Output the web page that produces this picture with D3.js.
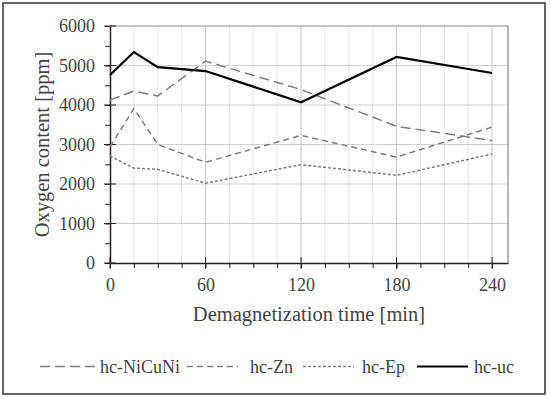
<!DOCTYPE html>
<html>
<head>
<meta charset="utf-8">
<script src="https://cdn.jsdelivr.net/npm/d3@7"></script>
<style>
    body { margin: 0; background: #fff; }
    svg text { font-family: "Liberation Serif", "Times New Roman", serif; }
    .axis path, .axis line { stroke: #222; }
</style>
</head>
<body>
<svg id="chart" width="550" height="399"></svg>
<script>
// demagnetization time [min]
let times = [0, 15, 30, 60, 120, 180, 240];
let niCuNi = [4130, 4350, 4230, 5110, 4390, 3460, 3100];
let zn = [2940, 3910, 3000, 2550, 3230, 2680, 3440];
let ep = [2710, 2400, 2370, 2020, 2490, 2220, 2760];
let uc = [4760, 5340, 4960, 4860, 4070, 5215, 4810];
let xTicks = [0, 60, 120, 180, 240];
let yTicks = [0, 1000, 2000, 3000, 4000, 5000, 6000];

let series = [
    {name: "hc-NiCuNi", values: niCuNi, color: "#808080", width: 1.5, dash: "10,5"},
    {name: "hc-Zn", values: zn, color: "#808080", width: 1.5, dash: "6,4"},
    {name: "hc-Ep", values: ep, color: "#808080", width: 1.5, dash: "3,2"},
    {name: "hc-uc", values: uc, color: "#000", width: 2.2, dash: null}
];

let svg = d3.select("#chart"),
    margin = {top: 26, right: 42, bottom: 136, left: 110},
    width = 550 - margin.left - margin.right,
    height = 399 - margin.top - margin.bottom;

// outer frame
svg.append("rect")
    .attr("x", 3).attr("y", 3)
    .attr("width", 542).attr("height", 391)
    .attr("fill", "none")
    .attr("stroke", "#333")
    .attr("stroke-width", 1.5);

let g = svg.append("g").attr("transform", "translate(" + margin.left + "," + margin.top + ")");

let x = d3.scaleLinear().domain([0, 250]).range([0, width]);
let y = d3.scaleLinear().domain([0, 6000]).range([height, 0]);

// grid
g.append("g").selectAll("line")
    .data(d3.range(15, 250, 15))
    .enter().append("line")
    .attr("x1", d => x(d)).attr("x2", d => x(d))
    .attr("y1", 0).attr("y2", height)
    .attr("stroke", d => d % 60 === 0 ? "#c8c8c8" : "#e6e6e6")
    .attr("stroke-width", 1);

g.append("g").selectAll("line")
    .data(yTicks.slice(1, -1))
    .enter().append("line")
    .attr("x1", 0).attr("x2", width)
    .attr("y1", d => y(d)).attr("y2", d => y(d))
    .attr("stroke", "#d0d0d0")
    .attr("stroke-width", 1);

// top and right frame of plot
g.append("path")
    .attr("d", "M0,0H" + width + "V" + height)
    .attr("fill", "none")
    .attr("stroke", "#888")
    .attr("stroke-width", 1.2);

// minor ticks
g.append("g").attr("class", "axis")
    .attr("transform", "translate(0," + height + ")")
    .call(d3.axisBottom(x).tickValues(d3.range(0, 250, 15)).tickSize(5).tickFormat(""))
    .call(a => a.select(".domain").remove());
g.append("g").attr("class", "axis")
    .call(d3.axisLeft(y).tickValues(d3.range(0, 6001, 500)).tickSize(5).tickFormat(""))
    .call(a => a.select(".domain").remove());

// major ticks crossing the axis
g.append("g").selectAll("line")
    .data(xTicks)
    .enter().append("line")
    .attr("x1", d => x(d)).attr("x2", d => x(d))
    .attr("y1", height - 6).attr("y2", height + 6)
    .attr("stroke", "#222");
g.append("g").selectAll("line")
    .data(yTicks)
    .enter().append("line")
    .attr("x1", -6).attr("x2", 6)
    .attr("y1", d => y(d)).attr("y2", d => y(d))
    .attr("stroke", "#222");

let xAxis = g.append("g").attr("class", "axis")
    .attr("transform", "translate(0," + height + ")")
    .call(d3.axisBottom(x).tickValues(xTicks).tickSize(0).tickPadding(15).tickSizeOuter(0).tickFormat(d3.format("d")));
xAxis.select(".domain").attr("stroke-width", 1.5);

let yAxis = g.append("g").attr("class", "axis")
    .call(d3.axisLeft(y).tickValues(yTicks).tickSize(0).tickPadding(15).tickSizeOuter(0).tickFormat(d3.format("d")));
yAxis.select(".domain").attr("stroke-width", 1.5);

g.selectAll(".axis")
    .attr("font-family", "Liberation Serif, serif")
    .attr("font-size", 18);
g.selectAll(".axis text")
    .style("font-family", "'Liberation Serif', serif")
    .attr("fill", "#444");

// series lines
let line = d3.line()
    .x((d, i) => x(times[i]))
    .y(d => y(d));

g.selectAll(".series")
    .data(series)
    .enter().append("path")
    .attr("class", "series")
    .attr("d", d => line(d.values))
    .attr("fill", "none")
    .attr("stroke", d => d.color)
    .attr("stroke-width", d => d.width)
    .attr("stroke-dasharray", d => d.dash);

// axis titles
svg.append("text")
    .attr("x", 309)
    .attr("y", 321)
    .attr("text-anchor", "middle")
    .attr("font-size", 20.5)
    .attr("fill", "#444")
    .text("Demagnetization time [min]");

svg.append("text")
    .attr("transform", "translate(49," + (margin.top + height / 2) + ") rotate(-90)")
    .attr("text-anchor", "middle")
    .attr("font-size", 20.5)
    .attr("fill", "#444")
    .text("Oxygen content [ppm]");

// legend
let legendX = [40, 187, 303, 417];
let textX = [100, 250, 362, 474];
let legend = svg.append("g").selectAll("g")
    .data(series)
    .enter().append("g");

legend.append("line")
    .attr("x1", (d, i) => legendX[i]).attr("x2", (d, i) => i === 0 ? 96 : legendX[i] + 51)
    .attr("y1", 366.5).attr("y2", 366.5)
    .attr("stroke", d => d.color)
    .attr("stroke-width", d => d.width)
    .attr("stroke-dasharray", d => d.dash);

legend.append("text")
    .attr("x", (d, i) => textX[i])
    .attr("y", 372.5)
    .attr("font-size", 18)
    .attr("fill", "#444")
    .text(d => d.name);
</script>
</body>
</html>
